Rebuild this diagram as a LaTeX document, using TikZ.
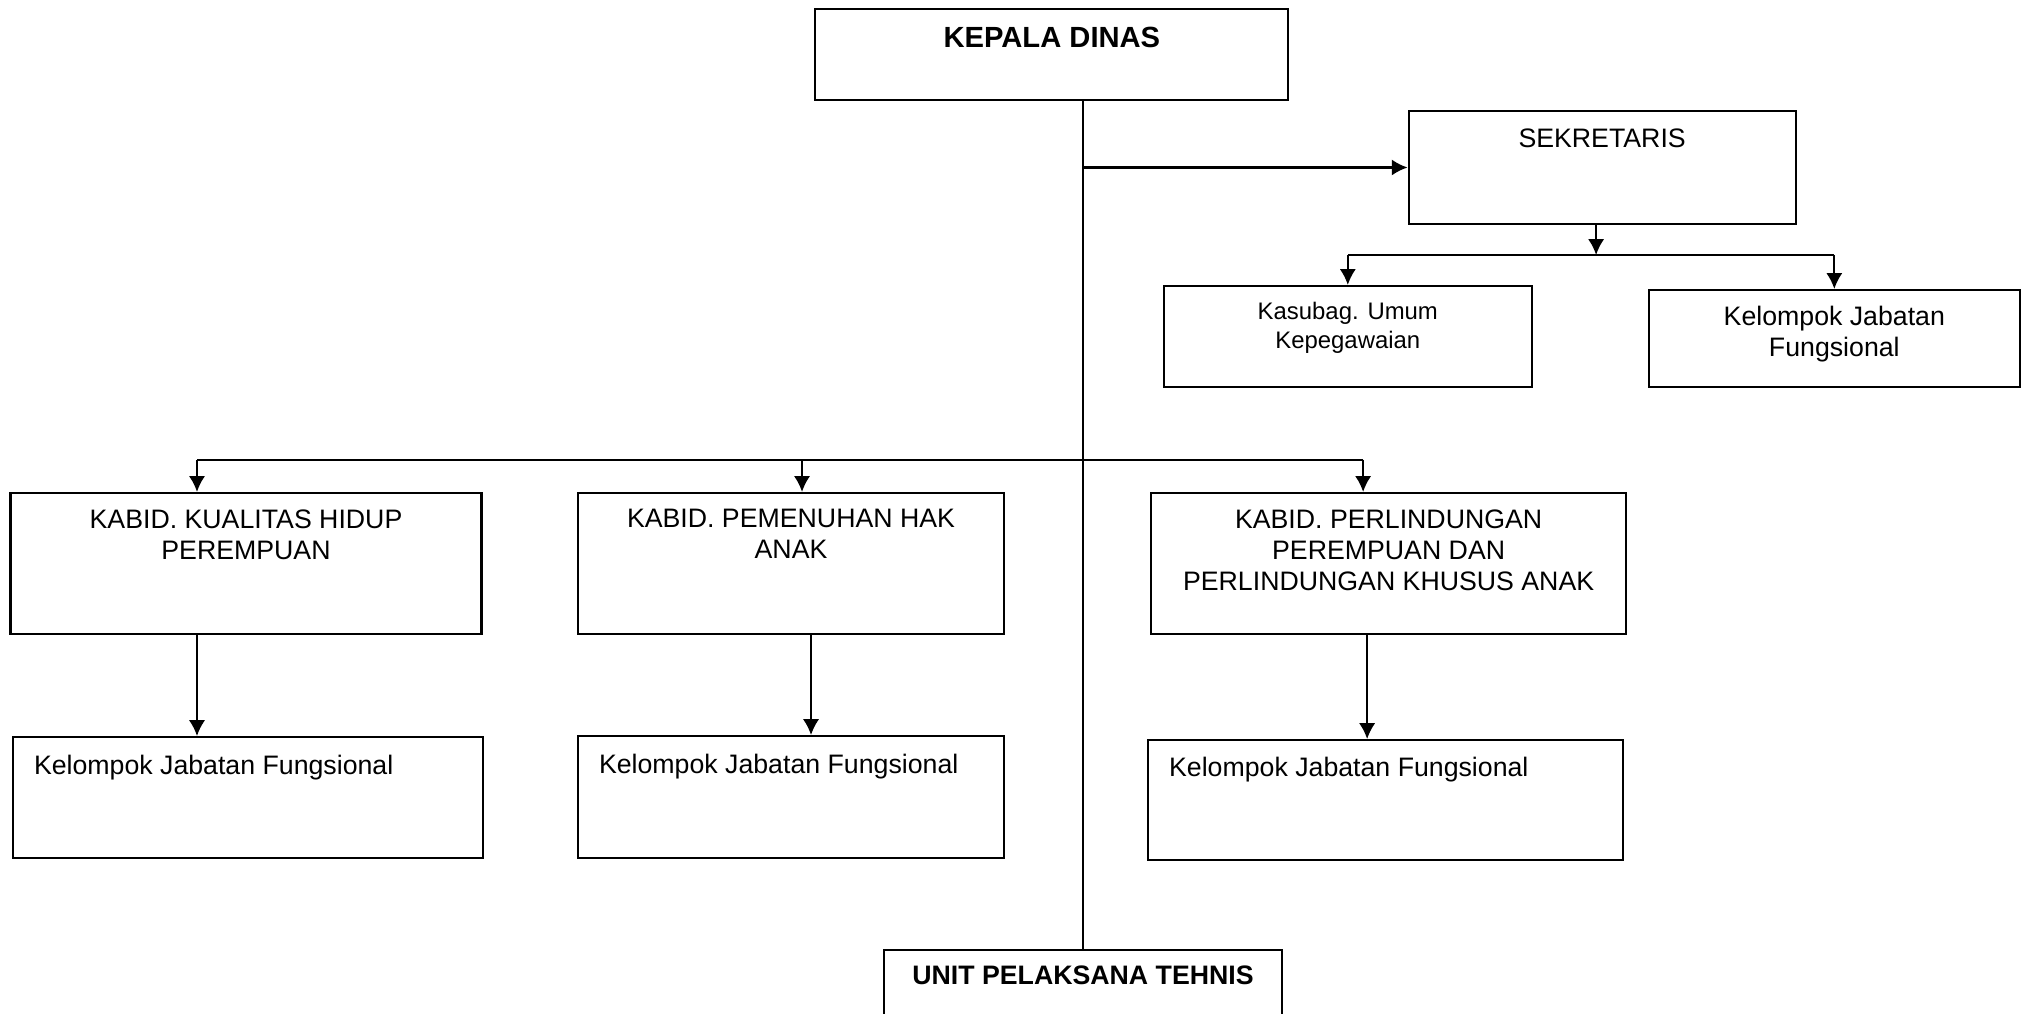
\documentclass[tikz,border=0pt]{standalone}
\usepackage{fontspec}
\setmainfont{Liberation Sans}
\usetikzlibrary{positioning,arrows.meta}

\newcommand{\txt}{\fontsize{7.6}{8.8}\selectfont}
\newcommand{\smalltxt}{\fontsize{6.8}{8.1}\selectfont}
\newcommand{\headtxt}{\fontsize{8.3}{9.6}\selectfont\bfseries}
% box text: width, height, top gap, text
\newcommand{\inbox}[4]{\parbox[c][#2][t]{#1}{\vspace*{#3}\centering #4\par}}
\newcommand{\inboxl}[4]{\parbox[c][#2][t]{#1}{\vspace*{#3}\hspace*{0.21cm}#4\par}}

\tikzset{
  box/.style={draw, line width=0.6pt, inner sep=0pt},
  link/.style={line width=0.6pt},
  arr/.style={-{Latex[length=4.5pt,width=4.6pt]}, line width=0.6pt}
}

\begin{document}
\begin{tikzpicture}[node distance=1cm]
\useasboundingbox (0,0) rectangle (20.30,-10.14);

% top
\node (kepala) [box] at (10.519,-0.544)
  {\inbox{4.73cm}{0.91cm}{0.18cm}{\headtxt KEPALA DINAS}};
\node (sek) [box] at (16.021,-1.675)
  {\inbox{3.87cm}{1.13cm}{0.18cm}{\txt SEKRETARIS}};
\node (kasubag) [box] at (13.478,-3.365)
  {\inbox{3.675cm}{1.01cm}{0.165cm}{\smalltxt Kasubag. Umum\\Kepegawaian}};
\node (jft) [box] at (18.343,-3.385)
  {\inbox{3.71cm}{0.97cm}{0.165cm}{\txt Kelompok Jabatan\\Fungsional}};

% bidang
\node (kabid1) [box] at (2.46,-5.635)
  {\inbox{4.71cm}{1.41cm}{0.165cm}{\txt KABID. KUALITAS HIDUP\\PEREMPUAN}};
\node (kabid2) [box, right=0.944cm of kabid1]
  {\inbox{4.26cm}{1.41cm}{0.165cm}{\txt KABID. PEMENUHAN HAK\\ANAK}};
\node (kabid3) [box, right=1.45cm of kabid2]
  {\inbox{4.75cm}{1.41cm}{0.165cm}{\txt KABID. PERLINDUNGAN\\PEREMPUAN DAN\\PERLINDUNGAN KHUSUS ANAK}};

\node (kel1) [box, below=1.01cm of kabid1, xshift=0.02cm]
  {\inboxl{4.70cm}{1.21cm}{0.18cm}{\txt Kelompok Jabatan Fungsional}};
\node (kel2) [box, below=1.00cm of kabid2]
  {\inboxl{4.26cm}{1.22cm}{0.18cm}{\txt Kelompok Jabatan Fungsional}};
\node (kel3) [box, below=1.04cm of kabid3, xshift=-0.03cm]
  {\inboxl{4.75cm}{1.20cm}{0.175cm}{\txt Kelompok Jabatan Fungsional}};

\node (unit) [box, anchor=north] at (10.83,-9.49)
  {\inbox{3.98cm}{1.0cm}{0.16cm}{\txt\bfseries UNIT PELAKSANA TEHNIS}};

% lines
\coordinate (sbar) at (0,-2.55);
\coordinate (mbar) at (0,-4.596);
\coordinate (s0) at ([xshift=-0.6mm]sek.south);
\coordinate (t1) at ([xshift=-4.9mm]kabid1.north);
\coordinate (t2) at ([xshift=1.1mm]kabid2.north);
\coordinate (t3) at ([xshift=-2.55mm]kabid3.north);
\coordinate (b1) at ([xshift=-4.9mm]kabid1.south);
\coordinate (b2) at ([xshift=2mm]kabid2.south);
\coordinate (b3) at ([xshift=-2.15mm]kabid3.south);

\draw [link] (kepala.south -| unit.north) -- (unit.north);
\draw [arr] (sek.west -| unit.north) -- (sek.west);

\draw [arr] (s0) -- (s0 |- sbar);
\draw [link] (sbar -| kasubag.north) -- (sbar -| jft.north);
\draw [arr] (sbar -| kasubag.north) -- (kasubag.north);
\draw [arr] (sbar -| jft.north) -- (jft.north);

\draw [link] (t1 |- mbar) -- (t3 |- mbar);
\draw [arr] (t1 |- mbar) -- (t1);
\draw [arr] (t2 |- mbar) -- (t2);
\draw [arr] (t3 |- mbar) -- (t3);

\draw [arr] (b1) -- (b1 |- kel1.north);
\draw [arr] (b2) -- (b2 |- kel2.north);
\draw [arr] (b3) -- (b3 |- kel3.north);
\end{tikzpicture}
\end{document}
